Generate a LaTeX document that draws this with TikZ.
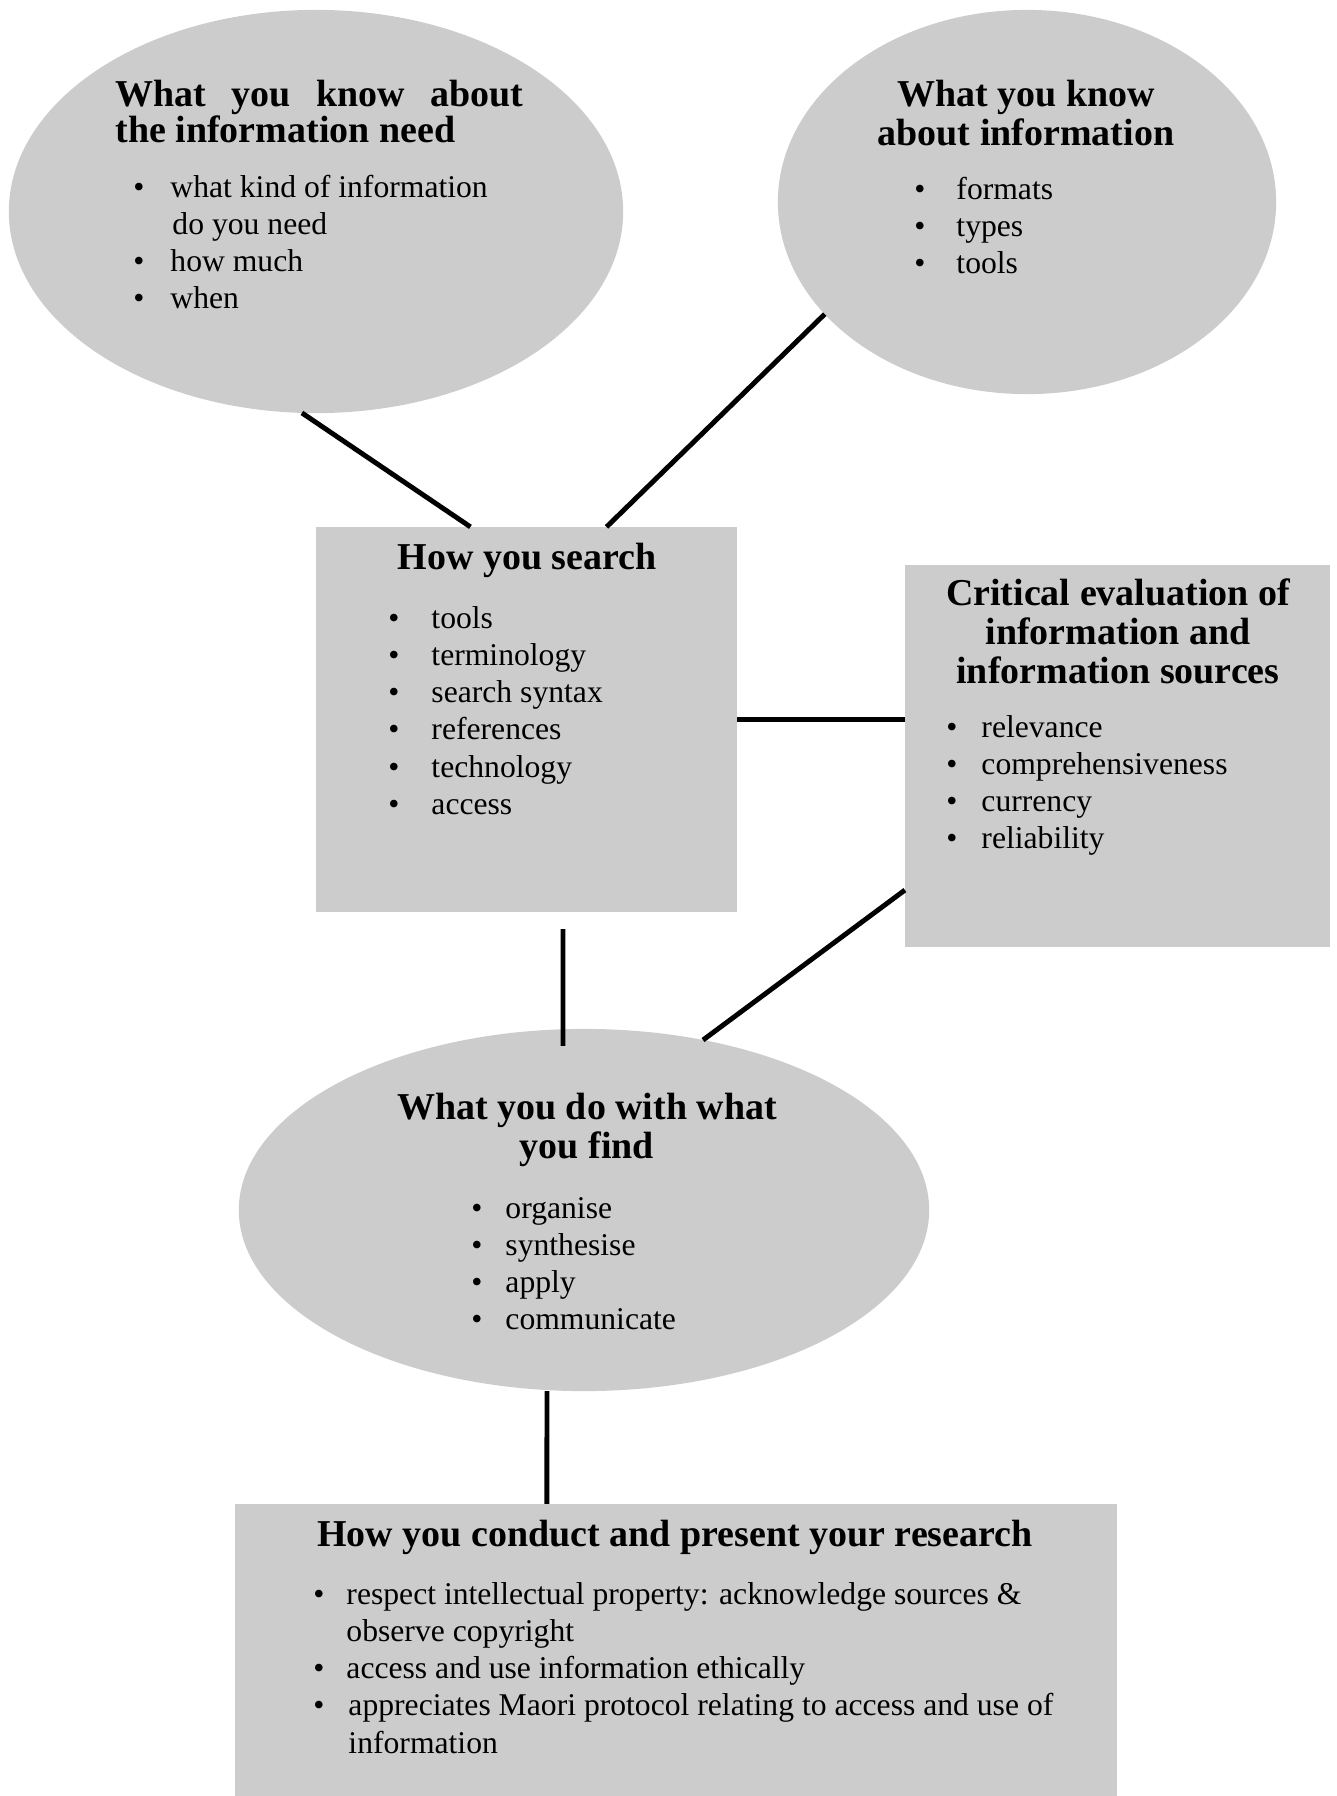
\documentclass[tikz,border=0pt]{standalone}
\usepackage{fontspec}
\setmainfont{Liberation Serif}
\usetikzlibrary{shapes.geometric, positioning, calc}

\definecolor{shade}{RGB}{204,204,204}

\newcommand{\bul}[2]{\makebox[#1][l]{\textbullet}#2}
\newcommand{\hlist}[1]{\begin{tabular}[t]{@{}c@{}}#1\end{tabular}}
\newcommand{\blist}[1]{\begin{tabular}[t]{@{}l@{}}#1\end{tabular}}

\begin{document}
\begin{tikzpicture}[x=0.01cm, y=-0.01cm, line width=1.4pt]
    \tikzstyle{blob}=[ellipse, fill=shade, inner sep=0pt, outer sep=0pt]
    \tikzstyle{panel}=[rectangle, fill=shade, inner sep=0pt, outer sep=0pt]
    \tikzstyle{head}=[anchor=base, inner sep=0pt, font=\fontsize{10.8}{11.2}\selectfont\bfseries]
    \tikzstyle{items}=[anchor=base west, inner sep=0pt, font=\fontsize{9}{10.6}\selectfont]

    \useasboundingbox (0,0) rectangle (1337,1796);

    \node[blob, minimum width=6.14cm, minimum height=4.03cm] (need) at (316,211.5) {};
    \node[blob, minimum width=4.98cm, minimum height=3.84cm] (info) at (1027,202) {};
    \node[panel, minimum width=4.21cm, minimum height=3.85cm] (search) at (526.5,719.5) {};
    \node[panel, minimum width=4.25cm, minimum height=3.82cm] (critic) at (1117.5,756) {};
    \node[blob, minimum width=6.90cm, minimum height=3.62cm] (find) at (584,1210) {};
    \node[panel, minimum width=8.82cm, minimum height=2.92cm] (conduct) at (676,1650) {};

    % texts
    \node[head, anchor=base west] (need-t) at (113,106)
        {\blist{\makebox[4.08cm][s]{What you know about}\\[-0.7pt] the information need}};
    \node[items] (need-l) at (131,197)
        {\blist{\bul{0.37cm}{what kind of information}\\ \hspace*{0.39cm}do you need\\
                \bul{0.37cm}{how much}\\ \bul{0.37cm}{when}}};

    \node[head] (info-t) at (1026,106) {\hlist{What you know\\ about information}};
    \node[items] (info-l) at (912,199)
        {\blist{\bul{0.42cm}{formats}\\ \bul{0.42cm}{types}\\ \bul{0.42cm}{tools}}};

    \node[head] (search-t) at (527,569) {How you search};
    \node[items] (search-l) at (386,628)
        {\blist{\bul{0.43cm}{tools}\\ \bul{0.43cm}{terminology}\\ \bul{0.43cm}{search syntax}\\
                \bul{0.43cm}{references}\\ \bul{0.43cm}{technology}\\ \bul{0.43cm}{access}}};

    \node[head] (critic-t) at (1118,605)
        {\hlist{Critical evaluation of\\ information and\\ information sources}};
    \node[items] (critic-l) at (944,737)
        {\blist{\bul{0.35cm}{relevance}\\ \bul{0.35cm}{comprehensiveness}\\
                \bul{0.35cm}{currency}\\ \bul{0.35cm}{reliability}}};

    \node[head] (find-t) at (587,1119) {\hlist{What you do with what\\ you find}};
    \node[items] (find-l) at (469,1218)
        {\blist{\bul{0.34cm}{organise}\\ \bul{0.34cm}{synthesise}\\
                \bul{0.34cm}{apply}\\ \bul{0.34cm}{communicate}}};

    \node[head] (conduct-t) at (675,1546) {How you conduct and present your research};
    \node[items] (conduct-l) at (311,1604)
        {\blist{\bul{0.33cm}{respect intellectual property: acknowledge sources \&}\\
                \hspace*{0.33cm}observe copyright\\
                \bul{0.33cm}{access and use information ethically}\\
                \bul{0.35cm}{appreciates Maori protocol relating to access and use of}\\
                \hspace*{0.35cm}information}};

    % connectors
    \draw (need.266) -- ([xshift=-0.56cm]search.north);
    \draw (info.209) -- ([xshift=0.8cm]search.north);
    \draw (search.east) -- (search.east -| critic.west);
    \draw ([xshift=0.365cm,yshift=-0.17cm]search.south) -- ([xshift=-0.21cm,yshift=-0.17cm]find.north);
    \draw ([yshift=0.57cm]critic.south west) -- (find.55);
    \draw ([xshift=-0.37cm]find.south) -- ([xshift=-1.29cm]conduct.north);
\end{tikzpicture}
\end{document}
